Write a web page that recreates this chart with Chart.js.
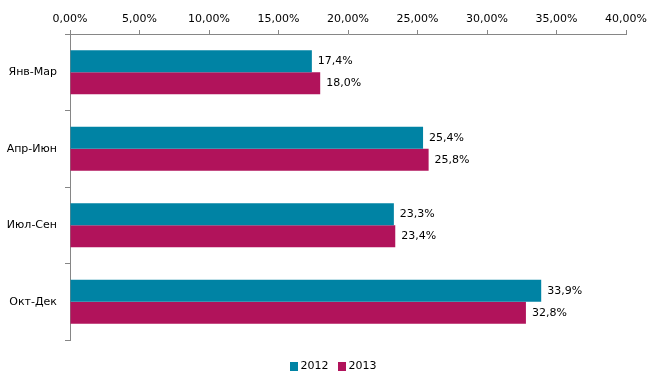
<!DOCTYPE html>
<html><head><meta charset="utf-8">
<script src="https://cdn.jsdelivr.net/npm/chart.js@4/dist/chart.umd.min.js"></script>
<style>html,body{margin:0;padding:0;background:#fff}#wrap{width:651px;height:380px}</style>
</head><body><div id="wrap"><canvas id="c" width="651" height="380"></canvas></div>
<script>
const categories = ["Янв-Мар", "Апр-Июн", "Июл-Сен", "Окт-Дек"];
const series2012 = [17.4, 25.4, 23.3, 33.9];
const series2013 = [18.0, 25.8, 23.4, 32.8];
const seriesNames = ["2012", "2013"];
const FONT = "'DejaVu Sans', sans-serif";
const FS = 11;

const labelPlugin = {
  id: 'valLabels',
  afterDatasetsDraw(chart) {
    const ctx = chart.ctx;
    ctx.save();
    ctx.font = FS + "px " + FONT;
    ctx.fillStyle = "#000";
    ctx.textAlign = "left";
    ctx.textBaseline = "middle";
    chart.data.datasets.forEach((ds, i) => {
      chart.getDatasetMeta(i).data.forEach((bar, j) => {
        const v = ds.data[j];
        ctx.fillText(v.toFixed(1).replace('.', ',') + '%', bar.x + 6, bar.y);
      });
    });
    ctx.restore();
  }
};

const legendPlugin = {
  id: 'customLegend',
  afterDraw(chart) {
    const ctx = chart.ctx;
    ctx.save();
    ctx.font = FS + "px " + FONT;
    ctx.textBaseline = "middle";
    ctx.textAlign = "left";
    const boxW = 8, boxH = 9, gapBox = 3, gapItem = 9;
    const items = chart.data.datasets.map(ds => ({label: ds.label, color: ds.backgroundColor, w: ctx.measureText(ds.label).width}));
    let total = 0;
    items.forEach((it, i) => { total += boxW + gapBox + it.w + (i < items.length - 1 ? gapItem : 0); });
    let x = (chart.chartArea.left + chart.chartArea.right) / 2 - total / 2 - 15;
    const cy = 366.5;
    items.forEach(it => {
      ctx.fillStyle = it.color;
      ctx.fillRect(Math.round(x), Math.round(cy - boxH / 2), boxW, boxH);
      x += boxW + gapBox;
      ctx.fillStyle = '#000';
      ctx.fillText(it.label, x, cy);
      x += it.w + gapItem;
    });
    ctx.restore();
  }
};

new Chart(document.getElementById('c'), {
  type: 'bar',
  data: {
    labels: categories,
    datasets: [
      {label: seriesNames[0], data: series2012, backgroundColor: '#0083A4'},
      {label: seriesNames[1], data: series2013, backgroundColor: '#B1135B'}
    ]
  },
  options: {
    indexAxis: 'y',
    responsive: false,
    animation: false,
    categoryPercentage: 0.575,
    barPercentage: 1.0,
    layout: {padding: {left: 0, right: 25, top: 0, bottom: 40}},
    plugins: {
      legend: {display: false},
      tooltip: {enabled: false}
    },
    scales: {
      x: {
        position: 'top',
        min: 0, max: 40,
        ticks: {stepSize: 5, color: '#000', font: {family: FONT, size: FS}, padding: 4,
          callback: v => v.toFixed(2).replace('.', ',') + '%', maxRotation: 0},
        grid: {drawOnChartArea: false, color: '#868686', tickLength: 4, tickColor: '#868686'},
        border: {color: '#868686'},
        afterFit: s => { s.height = 34; }
      },
      y: {
        offset: true,
        ticks: {color: '#000', font: {family: FONT, size: FS}, padding: 8},
        grid: {drawOnChartArea: false, offset: true, color: '#868686', tickLength: 5, tickColor: '#868686'},
        border: {color: '#868686'},
        afterFit: s => { s.width = 70; }
      }
    }
  },
  plugins: [labelPlugin, legendPlugin]
});
</script></body></html>
